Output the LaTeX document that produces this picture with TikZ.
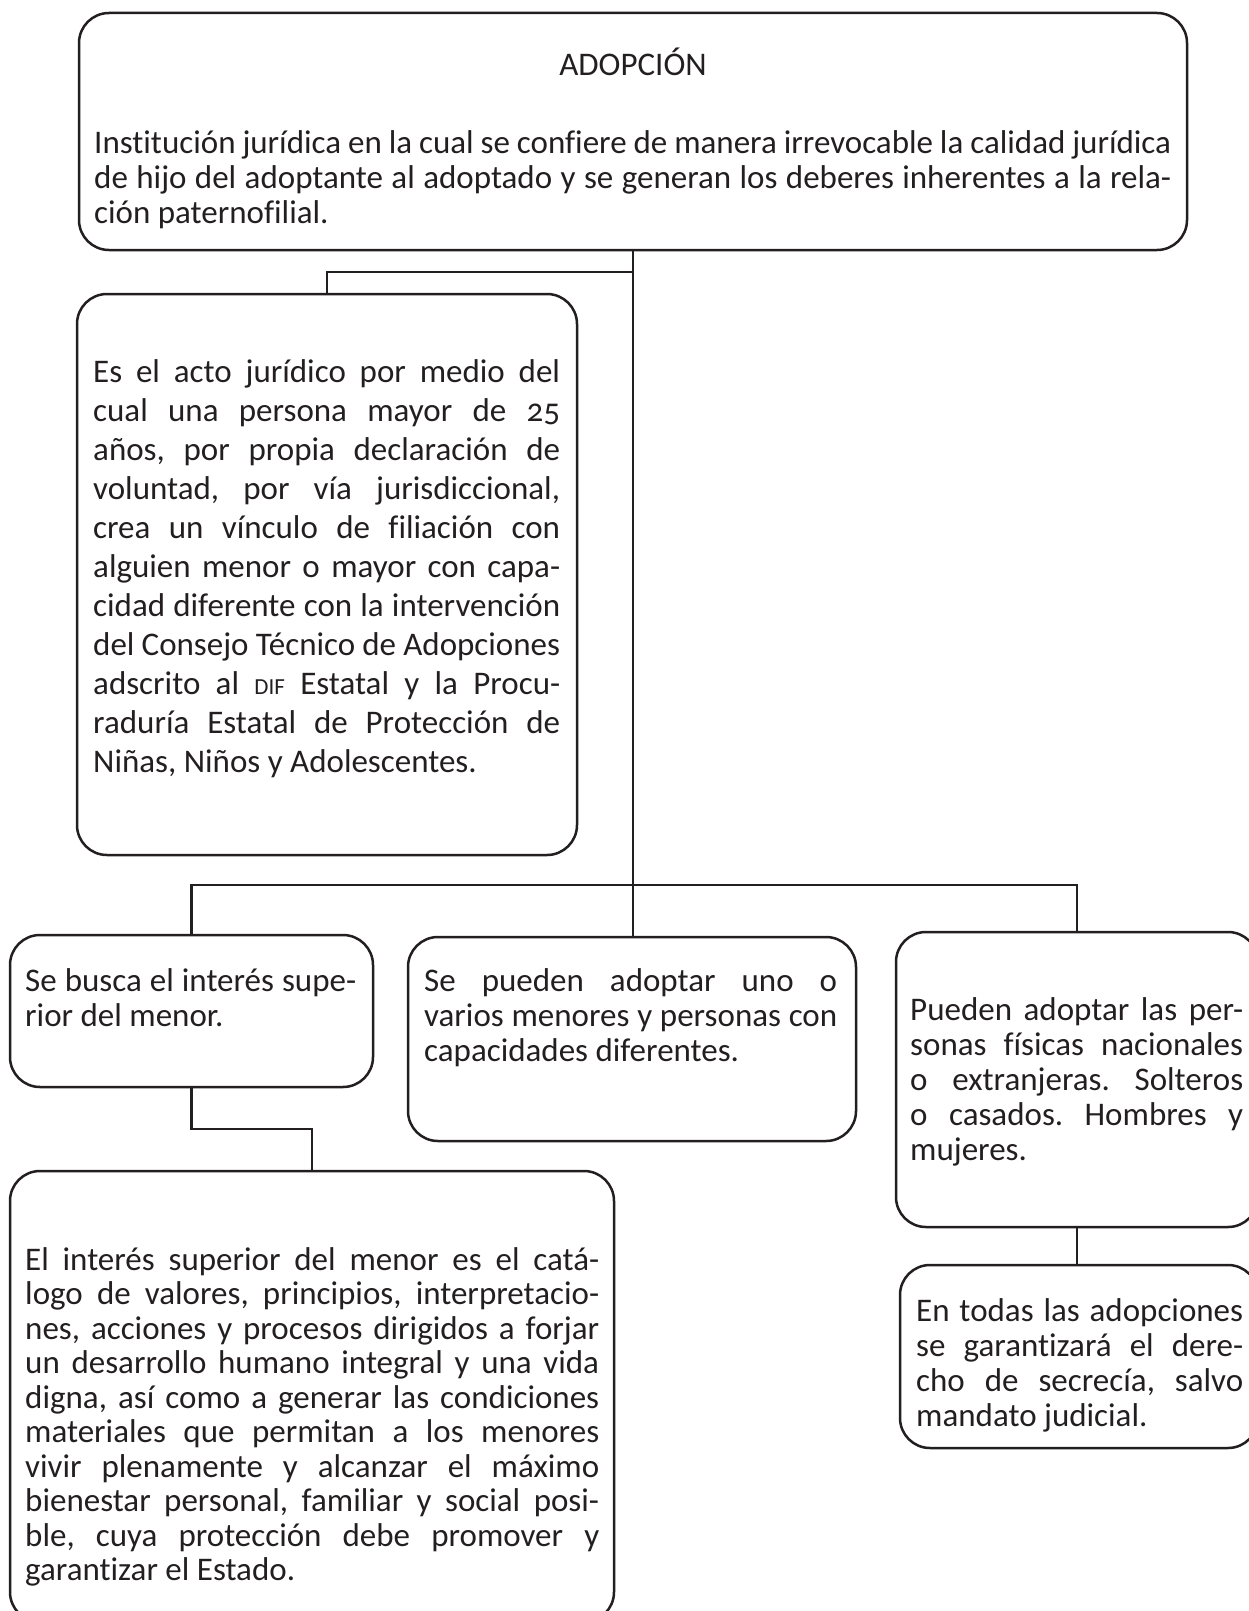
\documentclass[tikz,border=0pt]{standalone}
\usepackage{fontspec}
\setmainfont{Carlito}[Numbers=OldStyle,Ligatures=NoCommon]
\usetikzlibrary{calc}
\definecolor{ink}{RGB}{35,31,32}
\newcommand{\smalltxt}{\fontsize{33}{35}\selectfont}
\newcommand{\bigtxt}{\fontsize{33}{39}\selectfont}
\newcommand{\lead}{\rule{0pt}{28pt}}
\newcommand{\sigla}[1]{{\fontsize{23}{0}\selectfont #1}}
\setlength{\parindent}{0pt}
\tolerance=10000 \hbadness=10000 \frenchspacing

\begin{document}
\begin{tikzpicture}[x=1pt,y=-1pt,
  rbox/.style={draw=ink,line width=2.5pt,rounded corners=30pt,inner sep=0pt},
  txt/.style={inner sep=0pt,anchor=north west,align=justify,text=ink},
  link/.style={draw=ink,line width=2.5pt}]
\useasboundingbox (0,0) rectangle (1249,1611);
\node[rbox,minimum width=1108pt,minimum height=237pt] (adop) at (633,131.5) {};
\node[rbox,minimum width=500pt,minimum height=561pt] (acto) at (327,574.5) {};
\node[rbox,minimum width=363pt,minimum height=152pt] (interes) at (191.5,1011) {};
\node[rbox,minimum width=448pt,minimum height=204pt] (varios) at (632,1039) {};
\node[rbox,minimum width=362pt,minimum height=295pt] (pueden) at (1077,1079.5) {};
\node[rbox,minimum width=358pt,minimum height=183pt] (secreto) at (1079,1356.5) {};
\node[rbox,minimum width=604pt,minimum height=451pt] (catalogo) at (312,1396.5) {};

\node[inner sep=0pt,anchor=base,text=ink,font=\smalltxt] (adopH) at (633,75) {ADOPCIÓN};
\node[txt,text width=1077pt,font=\smalltxt] (adopT) at (94,125) {\lead Institución jurídica en la cual se confiere de manera irrevocable la calidad jurídica\linebreak de hijo del adoptante al adoptado y se generan los deberes inherentes a la rela-\linebreak ción paternofilial.};
\node[txt,text width=467pt,font=\bigtxt] (actoT) at (93,354) {\lead Es el acto jurídico por medio del\linebreak cual una persona mayor de 25\linebreak años, por propia declaración de\linebreak voluntad, por vía jurisdiccional,\linebreak crea un vínculo de filiación con\linebreak alguien menor o mayor con capa-\linebreak cidad diferente con la intervención\linebreak del Consejo Técnico de Adopciones\linebreak adscrito al \sigla{DIF} Estatal y la Procu-\linebreak raduría Estatal de Protección de\linebreak Niñas, Niños y Adolescentes.};
\node[txt,text width=331pt,font=\smalltxt] (interesT) at (25,963) {\lead Se busca el interés supe-\linebreak rior del menor.};
\node[txt,text width=413pt,font=\smalltxt] (variosT) at (424,963) {\lead Se pueden adoptar uno o\linebreak varios menores y personas con\linebreak capacidades diferentes.};
\node[txt,text width=333pt,font=\smalltxt] (puedenT) at (910,992) {\lead Pueden adoptar las per-\linebreak sonas físicas nacionales\linebreak o extranjeras. Solteros\linebreak o casados. Hombres y\linebreak mujeres.};
\node[txt,text width=327pt,font=\smalltxt] (secretoT) at (916,1293) {\lead En todas las adopciones\linebreak se garantizará el dere-\linebreak cho de secrecía, salvo\linebreak mandato judicial.};
\node[txt,text width=574pt,font=\fontsize{33}{34.5}\selectfont] (catalogoT) at (25,1242) {\lead El interés superior del menor es el catá-\linebreak logo de valores, principios, interpretacio-\linebreak nes, acciones y procesos dirigidos a forjar\linebreak un desarrollo humano integral y una vida\linebreak digna, así como a generar las condiciones\linebreak materiales que permitan a los menores\linebreak vivir plenamente y alcanzar el máximo\linebreak bienestar personal, familiar y social posi-\linebreak ble, cuya protección debe promover y\linebreak garantizar el Estado.};

\coordinate (hub) at (adop.south |- 0,885);
\coordinate (j1) at ($(adop.south)!0.5!(adop.south |- acto.north)$);
\draw[link] (adop.south) -- (hub);
\draw[link] (j1) -| (acto.north);
\draw[link] (interes.north) |- (hub) -| (pueden.north);
\draw[link] (hub) -- (hub |- varios.north);
\draw[link] (interes.south) |- ($(interes.south)!0.5!(catalogo.north)$) -| (catalogo.north);
\draw[link] (pueden.south) -- (pueden.south |- secreto.north);
\end{tikzpicture}
\end{document}
